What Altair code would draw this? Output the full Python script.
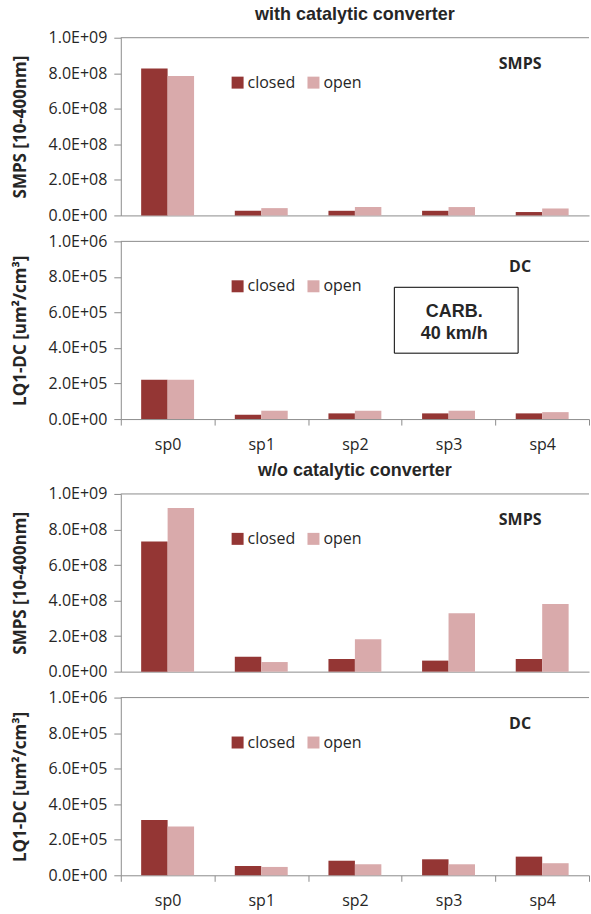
import altair as alt
import pandas as pd

# Sampling points and valve states
sampling_points = ["sp0", "sp1", "sp2", "sp3", "sp4"]
valves = ["closed", "open"]
valve_colors = ["#943634", "#D9AAAB"]

# With catalytic converter
smps_cat_closed = [8.27e8, 2.6e7, 2.6e7, 2.6e7, 1.9e7]
smps_cat_open = [7.85e8, 4.1e7, 4.7e7, 4.7e7, 3.9e7]
dc_cat_closed = [2.21e5, 2.4e4, 3.2e4, 3.2e4, 3.2e4]
dc_cat_open = [2.21e5, 4.7e4, 4.7e4, 4.7e4, 3.9e4]

# Without catalytic converter
smps_nocat_closed = [7.33e8, 8.4e7, 7.1e7, 6.2e7, 7.1e7]
smps_nocat_open = [9.21e8, 5.4e7, 1.82e8, 3.28e8, 3.80e8]
dc_nocat_closed = [3.11e5, 5.2e4, 8.2e4, 9.0e4, 1.05e5]
dc_nocat_open = [2.74e5, 4.7e4, 6.2e4, 6.2e4, 6.8e4]

smps_ticks = [0, 2e8, 4e8, 6e8, 8e8, 1e9]
dc_ticks = [0, 2e5, 4e5, 6e5, 8e5, 1e6]

AXIS_GRAY = "#8C8C8C"
TEXT = "#262626"
W, H = 469, 178

sci_label = r"replace(upper(format(datum.value, '.1e')), regexp('E\\+(\\d)$'), 'E+0$1')"


def long_table(closed, opened):
    rows = []
    for sp, c, o in zip(sampling_points, closed, opened):
        rows.append({"sp": sp, "valve": "closed", "value": c})
        rows.append({"sp": sp, "valve": "open", "value": o})
    return pd.DataFrame(rows)


def panel(closed, opened, ymax, yticks, ytitle, tag, title=None, show_x=False, note=None):
    df = long_table(closed, opened)
    if show_x:
        x_axis = alt.Axis(
            title=None, labelAngle=0, labelFont="Open Sans", labelFontSize=16,
            labelColor=TEXT, labelPadding=11, tickBand="extent", tickSize=6,
            tickColor=AXIS_GRAY, domainColor=AXIS_GRAY,
        )
    else:
        x_axis = alt.Axis(title=None, labels=False, ticks=False, domainColor=AXIS_GRAY)

    y_axis = alt.Axis(
        values=yticks, tickCount=len(yticks), labelExpr=sci_label, grid=False,
        labelOverlap=False, labelFlush=False, labelBound=False,
        labelFont="Open Sans", labelFontSize=16, labelColor=TEXT, labelPadding=7,
        tickSize=7, tickColor=AXIS_GRAY, domainColor=AXIS_GRAY,
        title=ytitle, titleFont="Open Sans", titleFontSize=17, titleFontWeight="bold",
        titleColor=TEXT, titleBaseline="middle", titleX=-100, titleY=H / 2,
    )

    bars = alt.Chart(df).mark_bar().encode(
        x=alt.X("sp:N", sort=sampling_points,
                scale=alt.Scale(paddingInner=0, paddingOuter=0), axis=x_axis),
        xOffset=alt.XOffset("valve:N", sort=valves,
                            scale=alt.Scale(paddingInner=0, paddingOuter=0.77)),
        y=alt.Y("value:Q", scale=alt.Scale(domain=[0, ymax], nice=False), axis=y_axis),
        color=alt.Color(
            "valve:N", sort=valves,
            scale=alt.Scale(domain=valves, range=valve_colors),
            legend=alt.Legend(
                orient="none", legendX=109, legendY=37, direction="horizontal",
                title=None, symbolType="square", symbolSize=144, symbolStrokeWidth=0,
                symbolOpacity=1, labelFont="Open Sans", labelFontSize=16,
                labelColor=TEXT, labelOffset=2, columnPadding=10, padding=0,
            ),
        ),
    )

    top_line = alt.Chart(pd.DataFrame({"top": [ymax]})).mark_rule(
        color=AXIS_GRAY, strokeWidth=1
    ).encode(y="top:Q")

    tag_text = alt.Chart(pd.DataFrame({"t": [tag]})).mark_text(
        font="Open Sans", fontSize=16, fontWeight="bold", color=TEXT
    ).encode(x=alt.value(400), y=alt.value(26), text="t:N")

    layers = [bars, top_line, tag_text]

    if note is not None:
        note_df = pd.DataFrame({"t": [note]})
        box = alt.Chart(note_df).mark_rect(
            fill="white", stroke="black", strokeWidth=1
        ).encode(x=alt.value(274), x2=alt.value(398), y=alt.value(46), y2=alt.value(112))
        note_text = alt.Chart(note_df).mark_text(
            font="Liberation Sans", fontSize=18, fontWeight="bold", color=TEXT,
            lineBreak="\n", lineHeight=22, align="center", baseline="middle",
        ).encode(x=alt.value(334), y=alt.value(71), text="t:N")
        layers += [box, note_text]

    props = dict(width=W, height=H)
    if title is not None:
        props["title"] = alt.Title(
            title, font="Liberation Sans", fontSize=18, fontWeight="bold",
            color=TEXT, anchor="middle", frame="group", offset=6,
        )
    return alt.layer(*layers).properties(**props)


p1 = panel(smps_cat_closed, smps_cat_open, 1e9, smps_ticks, "SMPS [10-400nm]", "SMPS",
           title="with catalytic converter")
p2 = panel(dc_cat_closed, dc_cat_open, 1e6, dc_ticks, "LQ1-DC [um²/cm³]", "DC",
           show_x=True, note="CARB.\n40 km/h")
p3 = panel(smps_nocat_closed, smps_nocat_open, 1e9, smps_ticks, "SMPS [10-400nm]", "SMPS",
           title="w/o catalytic converter")
p4 = panel(dc_nocat_closed, dc_nocat_open, 1e6, dc_ticks, "LQ1-DC [um²/cm³]", "DC",
           show_x=True)

chart = alt.vconcat(p1, p2, p3, p4, spacing=10).resolve_scale(
    color="independent", x="independent", y="independent"
).resolve_legend(color="independent").properties(
    padding={"left": 11, "top": 5, "right": 1, "bottom": 5},
    background="white",
).configure_view(stroke=None)

chart.save("out.html", embed_options={"renderer": "svg", "actions": False})
